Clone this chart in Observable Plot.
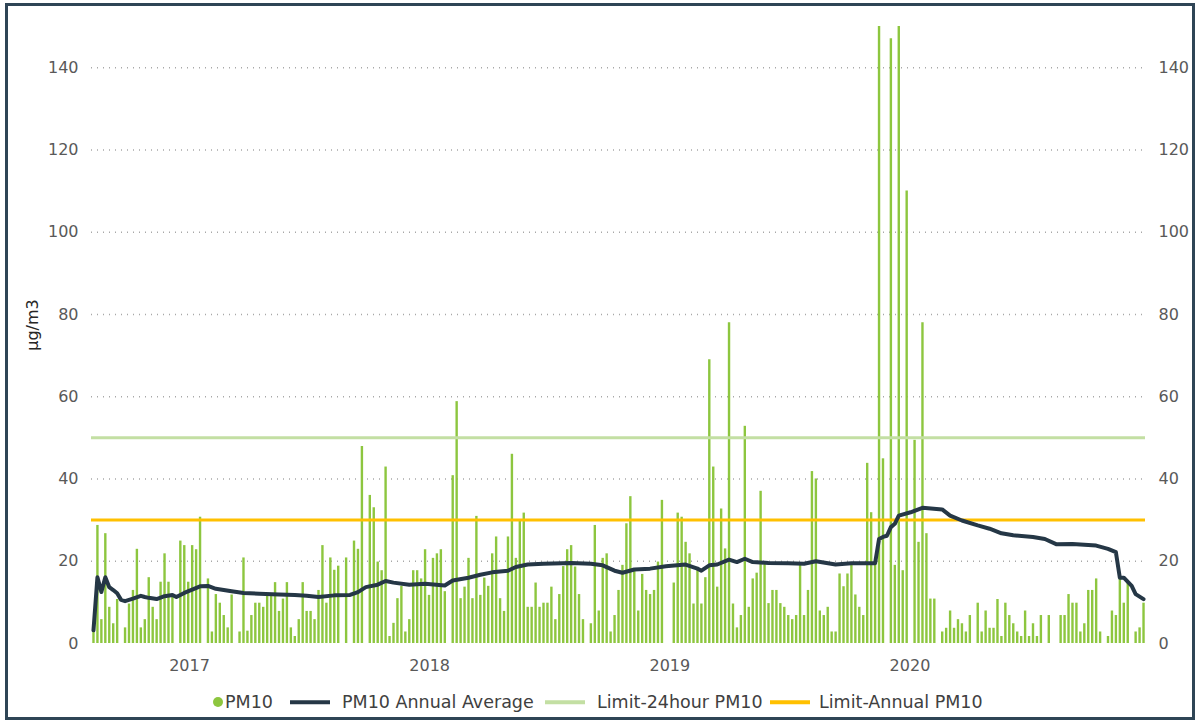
<!DOCTYPE html>
<html><head><meta charset="utf-8">
<script src="https://cdn.jsdelivr.net/npm/d3@7"></script>
<script src="https://cdn.jsdelivr.net/npm/@observablehq/plot@0.6"></script>
<style>
body{margin:0;background:#fff;font-family:"DejaVu Sans",sans-serif;}
#wrap{position:relative;width:1197px;height:722px;overflow:hidden;background:#fff;}
#chart{position:absolute;left:0;top:0;}
#frame{position:absolute;left:5px;top:3px;width:1190px;height:717px;box-sizing:border-box;border:3px solid #2f4556;pointer-events:none;}
#ylab{position:absolute;left:32px;top:325px;transform:translate(-50%,-50%) rotate(-90deg);font-size:16px;color:#262626;white-space:nowrap;}
#legend{position:absolute;top:690px;left:0;width:1197px;height:24px;font-size:17.5px;color:#404040;}
#legend .sw,#legend .tx{position:absolute;top:50%;transform:translateY(-50%);white-space:nowrap;}
#legend .dot{width:10px;height:10px;border-radius:50%;}
#legend .ln{width:40px;height:3.5px;}
</style></head>
<body>
<div id="wrap">
  <div id="chart"></div>
  <div id="ylab">µg/m3</div>
  <div id="legend"></div>
  <div id="frame"></div>
</div>
<script>
// PM10 samples (1-in-6-day schedule), null = no sample
const pm10 = [
 3,28.7,5.8,26.7,8.8,4.8,10.7,null,3.8,9.6,
 12.9,22.9,3.8,5.8,16,8.8,5.8,14.9,21.8,14.9,
 11.8,null,24.9,23.8,14.9,23.8,22.8,30.7,null,15.7,
 2.8,11.9,9.8,6.8,3.8,11.8,null,2.8,20.8,3,
 6.8,9.8,9.8,8.8,11.8,11.8,14.8,7.8,10.8,14.8,
 3.8,1.7,5.8,14.8,7.8,7.8,5.8,12.9,23.8,9.8,
 20.8,17.8,18.8,null,20.8,null,24.9,22.9,47.9,null,
 36,33,19.8,17.7,42.9,1.7,4.9,10.9,13.9,2.8,
 5.8,17.7,17.7,15.7,22.8,11.7,20.7,21.8,22.8,12.6,
 null,40.8,58.8,10.9,13.7,20.7,10.9,30.9,11.7,15.9,
 13.9,21.8,25.9,10.9,7.8,25.9,46,20.7,30,31.7,
 8.8,8.8,14.7,8.8,9.8,9.8,13.7,5.8,11.9,18.7,
 22.8,23.8,18.6,11.9,5.8,null,4.8,28.7,7.9,20.7,
 21.8,2.8,6.8,12.9,19,29.1,35.7,17.7,7.9,16.8,
 12.9,11.9,12.9,19.8,34.8,null,null,14.7,31.7,30.7,
 24.6,21.8,9.6,18.5,9.6,16,69,42.9,13.7,32.7,
 23,78,9.6,3.8,6.8,52.8,8.8,15.7,17.1,37,
 19.5,9.7,12.9,12.9,9.7,8.8,6.8,5.8,6.8,19,
 6.8,12.9,41.8,40,7.9,6.8,8.8,2.8,2.8,16.9,
 13.8,16.9,19,11.8,8.8,6.8,43.8,31.8,20,150,
 44.9,null,147,19,150,17.7,110,null,49.4,24.6,
 78,26.7,10.8,10.8,null,2.8,3.7,7.9,3.7,5.8,
 4.8,2.8,6.8,null,9.8,2.8,7.9,3.7,3.7,10.7,
 1.7,9.8,6.8,4.8,2.8,1.7,7.9,1.7,4.8,1.7,
 6.8,null,6.8,null,null,6.8,6.8,11.9,9.8,9.8,
 2.8,4.8,12.9,12.9,15.7,2.8,null,1.7,7.9,6.8,
 15.7,9.8,15,null,2.8,3.8,9.8
];
// PM10 annual (rolling) average, read at sample numbers
const avgSample = [0,1,2,3,4,5,6,7,8,10,12,13,14,16,18,20,21,23,25,27,29,31,35,38,42,47,51,54,57,61,65,67,69,72,74,76,80,84,89,91,95,98,101,105,107,110,114,121,126,129,132,134,137,141,145,150,153,154,156,158,161,163,165,167,171,176,180,183,188,192,198,199,200,201,202,203,204,207,210,215,217,220,224,227,230,233,238,241,244,248,254,257,259,260,261,263,264,266];
const avgValue = [3.2,16.1,12.5,16.1,13.7,13,12.2,10.6,10.3,10.9,11.6,11.3,11.1,10.8,11.5,11.8,11.3,12.3,13.1,13.9,14.0,13.3,12.7,12.3,12.1,11.9,11.8,11.6,11.3,11.7,11.8,12.5,13.7,14.3,15.2,14.8,14.3,14.5,14.1,15.3,16.0,16.7,17.3,17.7,18.6,19.2,19.4,19.6,19.4,19.0,17.7,17.2,18.0,18.2,18.8,19.2,18.2,17.7,19.0,19.2,20.4,19.8,20.6,19.8,19.6,19.5,19.4,20.0,19.2,19.5,19.5,25.4,25.9,26.2,28.3,29.1,31.1,31.9,33.0,32.6,31.1,29.9,28.7,27.9,26.8,26.3,25.9,25.4,24.1,24.2,23.8,23.0,22.2,16.0,16.0,14.0,12.0,10.8];
const limit24h = 50;
const limitAnnual = 30;
const yTicks = [0,20,40,60,80,100,120,140];
const yearLabels = [2017,2018,2019,2020];
const firstSampleDate = "2016-08-08";
const sampleStepDays = 6;

const DAY = 864e5;
const t0 = new Date(firstSampleDate + "T00:00:00Z").getTime();
const dates = pm10.map((_, i) => new Date(t0 + i * sampleStepDays * DAY));
const bars = pm10.map((v, i) => ({date: dates[i], v})).filter(d => d.v != null);
const avg = avgSample.map((k, j) => ({date: dates[k], v: avgValue[j]}));
const yearTicks = yearLabels.map(y => new Date(Date.UTC(y, 0, 1)));

const C = {bar:"#8dc63f", avg:"#253746", l24:"#c3dfa3", lann:"#ffc000"};

const chart = Plot.plot({
  width: 1197, height: 680,
  marginLeft: 91, marginRight: 52, marginTop: 26, marginBottom: 37,
  style: {fontSize: "16px", color: "#595959", fontFamily: '"DejaVu Sans",sans-serif', background: "transparent"},
  x: {type: "utc", domain: [new Date(t0 - 3 * DAY), new Date(dates[dates.length - 1].getTime() + 3 * DAY)]},
  y: {domain: [0, 150]},
  marks: [
    Plot.gridY(yTicks.filter(d => d > 0), {stroke: "#a8a8a8", strokeOpacity: 1, strokeDasharray: "1,5", strokeWidth: 1.5}),
    Plot.ruleX(bars, {x: "date", y: "v", stroke: C.bar, strokeWidth: 2.4}),
    Plot.ruleY([limit24h], {stroke: C.l24, strokeWidth: 3}),
    Plot.ruleY([limitAnnual], {stroke: C.lann, strokeWidth: 3}),
    Plot.line(avg, {x: "date", y: "v", stroke: C.avg, strokeWidth: 4, strokeLinejoin: "round", strokeLinecap: "round"}),
    Plot.axisY(yTicks, {anchor: "left", tickSize: 0, tickPadding: 13, label: null}),
    Plot.axisY(yTicks, {anchor: "right", tickSize: 0, tickPadding: 13, label: null}),
    Plot.axisX(yearTicks, {anchor: "bottom", tickSize: 0, tickPadding: 16, tickFormat: d3.utcFormat("%Y"), label: null})
  ]
});
document.getElementById("chart").appendChild(chart);

const legendItems = [
  {name: "PM10", kind: "dot", color: C.bar},
  {name: "PM10 Annual Average", kind: "line", color: C.avg},
  {name: "Limit-24hour PM10", kind: "line", color: C.l24},
  {name: "Limit-Annual PM10", kind: "line", color: C.lann}
];
// legend swatch / text left edges (px)
const legendSwatchX = [213, 290, 545, 770];
const legendTextX = [225, 342, 597, 819];
const lg = document.getElementById("legend");
legendItems.forEach((it, i) => {
  const s = document.createElement("span");
  s.className = "sw " + (it.kind === "dot" ? "dot" : "ln");
  s.style.background = it.color;
  s.style.left = legendSwatchX[i] + "px";
  const t = document.createElement("span");
  t.className = "tx";
  t.textContent = it.name;
  t.style.left = legendTextX[i] + "px";
  lg.appendChild(s); lg.appendChild(t);
});
</script>
</body></html>
